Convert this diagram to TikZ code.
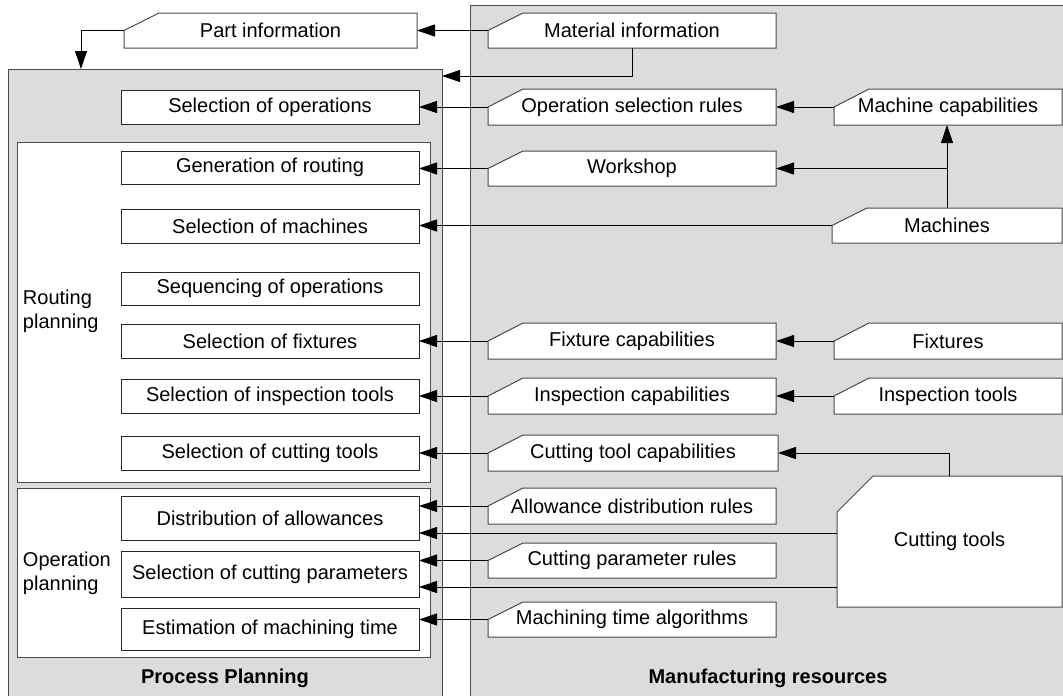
\documentclass[tikz,border=0pt]{standalone}
\usepackage{fontspec}
\setmainfont{Liberation Sans}
\usetikzlibrary{arrows.meta}
\definecolor{panelgray}{HTML}{DCDCDC}
\definecolor{edgegray}{HTML}{4A4A4A}

% resource box with cut top-left corner: name, x1, y1, x2, y2, cut x, cut y, text
\newcommand{\resbox}[8]{%
  \draw[resline] (#2,{#3+#7}) -- ({#2+#6},#3) -- (#4,#3) -- (#4,#5) -- (#2,#5) -- cycle;
  \node[minimum width=#4-#2, minimum height=#5-#3] (#1) at ({(#2+#4)/2},{(#3+#5)/2}) {#8};}

\begin{document}
\begin{tikzpicture}[x=1pt, y=-1pt,
    every node/.style={font=\fontsize{20}{24}\selectfont, inner sep=0pt, outer sep=0pt},
    panel/.style={fill=panelgray, draw=edgegray, line width=1pt},
    group/.style={fill=white, draw=edgegray, line width=1pt},
    task/.style={fill=white, draw=black!85, line width=0.9pt,
        minimum width=298, minimum height=34},
    resline/.style={fill=white, draw=edgegray, line width=1pt},
    arr/.style={-{Triangle[length=18pt,width=12pt]}, line width=0.9pt}]
\useasboundingbox (0,0) rectangle (1063,696);
\clip (0,0) rectangle (1063,696);

% panels
\node[panel, anchor=north west, minimum width=434, minimum height=660] (pp) at (8,69) {};
\node[panel, anchor=north west, minimum width=620, minimum height=720] (mr) at (470,5) {};
\node[group, minimum width=413, minimum height=340] (rp) at (223.5,312) {};
\node[group, minimum width=413, minimum height=169] (op) at (223.5,572.5) {};

% process planning tasks
\node[task] (selop) at (270,107) {Selection of operations};
\node[task, minimum height=33] (genrt) at (270,167.5) {Generation of routing};
\node[task] (selmc) at (270,226) {Selection of machines};
\node[task, minimum height=33] (seqop) at (270,288.5) {Sequencing of operations};
\node[task] (selfx) at (270,341) {Selection of fixtures};
\node[task] (selin) at (270,396) {Selection of inspection tools};
\node[task] (selct) at (270,453) {Selection of cutting tools};
\node[task, minimum height=44] (distal) at (270,518) {Distribution of allowances};
\node[task, minimum height=46] (selcp) at (270,574) {Selection of cutting parameters};
\node[task, minimum height=42] (estmt) at (270,629) {Estimation of machining time};

\node[anchor=west, align=left] (rplab) at (23,311) {Routing\\planning};
\node[anchor=west, align=left] (oplab) at (23,573) {Operation\\planning};
\node[font=\fontsize{20}{24}\selectfont\bfseries] (pplab) at (225,678) {Process Planning};
\node[font=\fontsize{20}{24}\selectfont\bfseries] (mrlab) at (768,678) {Manufacturing resources};

% resources
\resbox{part}{124}{13}{417}{48}{35}{17.5}{Part information}
\resbox{matl}{488}{13}{776}{48}{35}{17.5}{Material information}
\resbox{osr}{488}{89}{776}{125}{35}{18}{Operation selection rules}
\resbox{mcap}{834}{89}{1062}{125}{35}{18}{Machine capabilities}
\resbox{wshop}{488}{151}{776}{186}{35}{17.5}{Workshop}
\resbox{mach}{832}{208}{1062}{243}{35}{17.5}{Machines}
\resbox{fcap}{488}{323}{776}{359}{35}{18}{Fixture capabilities}
\resbox{fixt}{834}{323}{1062}{359}{35}{18}{Fixtures}
\resbox{icap}{488}{378}{776}{414}{35}{18}{Inspection capabilities}
\resbox{itool}{834}{378}{1062}{414}{35}{18}{Inspection tools}
\resbox{ctcap}{488}{435}{778}{471}{35}{18}{Cutting tool capabilities}
\resbox{adr}{488}{488}{776}{524}{35}{18}{Allowance distribution rules}
\resbox{ctool}{837}{476}{1062}{607}{36}{36}{Cutting tools}
\resbox{cpr}{488}{543}{776}{578}{35}{17.5}{Cutting parameter rules}
\resbox{mta}{488}{602}{776}{637}{35}{17.5}{Machining time algorithms}

% connectors
\coordinate (ppin) at (81,69);
\coordinate (mtin) at (442,76);
\coordinate (ct1) at (837,533);
\coordinate (ct2) at (837,587);
\draw[arr] (matl.west) -- (part.east);
\draw[arr] (part.west) -| (ppin);
\draw[arr] (matl.south) |- (mtin);
\draw[arr] (osr.west) -- (osr.west -| selop.east);
\draw[arr] (mcap.west) -- (osr.east);
\draw[arr] (mach.north) -- (mach.north |- mcap.south);
\draw[arr] (mach.north |- wshop.east) -- (wshop.east);
\draw[arr] (wshop.west) -- (wshop.west -| genrt.east);
\draw[arr] (mach.west) -- (mach.west -| selmc.east);
\draw[arr] (fixt.west) -- (fcap.east);
\draw[arr] (fcap.west) -- (fcap.west -| selfx.east);
\draw[arr] (itool.west) -- (icap.east);
\draw[arr] (icap.west) -- (icap.west -| selin.east);
\draw[arr] (ctool.north) |- (ctcap.east);
\draw[arr] (ctcap.west) -- (ctcap.west -| selct.east);
\draw[arr] (adr.west) -- (adr.west -| distal.east);
\draw[arr] (ct1) -- (ct1 -| distal.east);
\draw[arr] (cpr.west) -- (cpr.west -| selcp.east);
\draw[arr] (ct2) -- (ct2 -| selcp.east);
\draw[arr] (mta.west) -- (mta.west -| estmt.east);
\end{tikzpicture}
\end{document}
